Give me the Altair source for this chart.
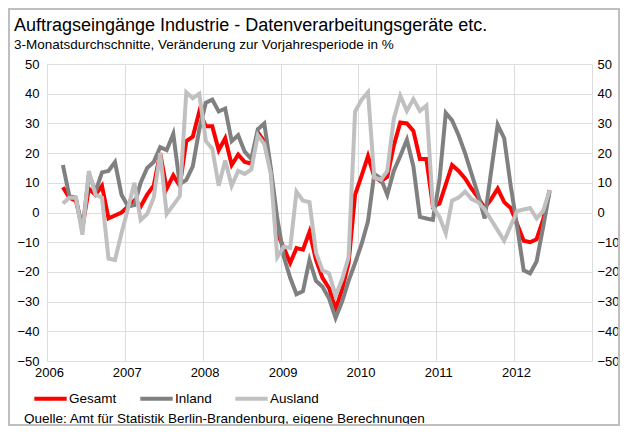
import altair as alt
import pandas as pd

# ---- data (3-month averages, change vs. previous year in %) Mar 2006 .. Jun 2012
series_names = ["Gesamt", "Inland", "Ausland"]
series_colors = ["#FF0000", "#808080", "#C0C0C0"]

gesamt = [
    8.5, 5, 4, -5, 8, 6, 9, -2, -1, 0,
    2, 4, 2, 6, 9, 20, 8, 12.5, 9, 24, 25.5, 34,
    29, 29, 21, 25, 16, 19.5, 17, 16.5, 27, 24, 14, -7,
    -12, -17, -12, -12.5, -6.5, -16, -22, -25.5, -32.5, -26, -17, 6,
    12.5, 19, 12, 10.5, 12, 22.5, 30.3, 30, 27.5, 18, 18, 2,
    3, 9.5, 16, 14, 11.5, 8, 5, 1.5, 4.5, 8, 3.5, 1.5,
    -4, -9.5, -10, -9, -2.5, 7.5,
]
inland = [
    16, 5.5, 5, -6, 13, 7, 13.5, 14, 17, 6,
    2, 2.5, 10, 15, 17, 22, 21, 26.5, 9.5, 11, 15.5, 28,
    37, 38, 34, 35, 24, 26, 20.5, 18, 28, 30, 15, -2,
    -15, -22, -27.5, -26.5, -16, -23, -25, -29, -35.5, -30, -23, -17,
    -10.5, -3, 13, 11.5, 6, 14, 19, 24.5, 15.5, -1.5, -2, -2.5,
    11, 33.5, 31, 26, 20, 13, 6, -2, 14, 29.5, 25, 9,
    -5, -19.5, -20.5, -16.5, -5, 7,
]
ausland = [
    3, 5, 5, -7.5, 14, 6, 5, -15.5, -16, -7,
    1.5, 10, -2.5, -0.5, 5, 20, -0.5, 2.5, 5.5, 40.5, 38.5, 40,
    24, 21.5, 9, 17.5, 9, 14, 13, 14.5, 26, 23, 13, -15,
    -11.5, -12, 7, 4, 3.5, -13.5, -19.5, -20.5, -28, -22.5, -15, 34,
    38, 40.5, 11.8, 11, 14, 31.5, 39.3, 34.2, 38.2, 34.2, 36, 2,
    -1.5, -7, 4, 5, 7, 4.5, 3.5, 1, -2.5, -6, -9.5, -4.5,
    0.5, 1, 1.5, -2, 0.5, 7.5,
]

years = list(range(2006, 2013))
y_ticks = list(range(-50, 51, 10))

title_text = "Auftragseingänge Industrie - Datenverarbeitungsgeräte etc."
subtitle_text = "3-Monatsdurchschnitte, Veränderung zur Vorjahresperiode in %"
source_text = "Quelle: Amt für Statistik Berlin-Brandenburg, eigene Berechnungen"

# ---- table
months = pd.date_range("2006-03-01", periods=len(gesamt), freq="MS")
mids = [m + (m + pd.offsets.MonthBegin(1) - m) / 2 for m in months]
dates = [d.strftime("%Y-%m-%dT%H:%M:%SZ") for d in mids]

df = pd.DataFrame({
    "date": dates * 3,
    "serie": ["Gesamt"] * len(gesamt) + ["Inland"] * len(inland) + ["Ausland"] * len(ausland),
    "wert": gesamt + inland + ausland,
})

FONT = "Liberation Sans"


def dt(y):
    return alt.DateTime(year=y, month=1, date=1, utc=True)


x_enc = alt.X(
    "date:T",
    scale=alt.Scale(type="utc", domain=[dt(2006), dt(2013)]),
    axis=alt.Axis(
        values=[dt(y) for y in years], format="%Y", formatType="utc",
        grid=True, ticks=False, domain=False, labelFlush=False,
        labelFontSize=13, labelPadding=5, labelOffset=2, labelColor="#000000",
        title=None,
    ),
)

color_enc = alt.Color(
    "serie:N",
    scale=alt.Scale(domain=series_names, range=series_colors),
    legend=alt.Legend(
        orient="none", legendX=-18, legendY=316, direction="horizontal",
        title=None, symbolType="stroke", symbolSize=1050, symbolStrokeWidth=4,
        symbolOffset=3,
        labelFontSize=13.5, labelOffset=0, columnPadding=15, padding=0,
        labelColor="#000000", labelFont=FONT,
    ),
)


def line_layer(name, axis):
    return (
        alt.Chart(df)
        .transform_filter(alt.datum.serie == name)
        .mark_line(strokeWidth=4)
        .encode(
            x=x_enc,
            y=alt.Y("wert:Q", scale=alt.Scale(domain=[-50, 50], nice=False), axis=axis),
            color=color_enc,
        )
    )


left_axis = alt.Axis(values=y_ticks, orient="left", grid=True, ticks=False, domain=False,
                     labelPadding=8, labelFontSize=13, labelColor="#000000", title=None)
right_axis = alt.Axis(values=y_ticks, orient="right", grid=False, ticks=False, domain=False,
                      labelPadding=5, labelFontSize=13, labelColor="#000000", title=None)

lines = alt.layer(
    line_layer("Gesamt", left_axis),
    line_layer("Inland", None),
    line_layer("Ausland", right_axis),
).resolve_axis(y="independent").resolve_scale(y="shared")


def text_layer(txt, x, y, size):
    return alt.Chart(pd.DataFrame({"t": [txt]})).mark_text(
        align="left", baseline="alphabetic", fontSize=size, font=FONT, color="#000000"
    ).encode(text="t:N", x=alt.value(x), y=alt.value(y))


title_l = text_layer(title_text, -33, -33, 18)
subtitle_l = text_layer(subtitle_text, -33, -15, 13.5)
source_l = text_layer(source_text, -23, 359, 13.5)

border = alt.Chart(pd.DataFrame({"a": [0]})).mark_rect(
    filled=False, stroke="#BFBFBF", strokeWidth=2
).encode(x=alt.value(-38), x2=alt.value(572), y=alt.value(-55), y2=alt.value(361))

chart = alt.layer(lines, title_l, subtitle_l, source_l, border).properties(
    width=545, height=297,
    autosize=alt.AutoSizeParams(type="none"),
    padding={"left": 39, "top": 56, "right": 28, "bottom": 65},
).configure_view(
    stroke="#C8C8C8", strokeWidth=1.3
).configure_axis(
    gridColor="#C8C8C8", gridWidth=1.3, labelFont=FONT
).configure(
    font=FONT, background="#FFFFFF"
)

chart.save("out.html", embed_options={"renderer": "svg", "actions": False})
